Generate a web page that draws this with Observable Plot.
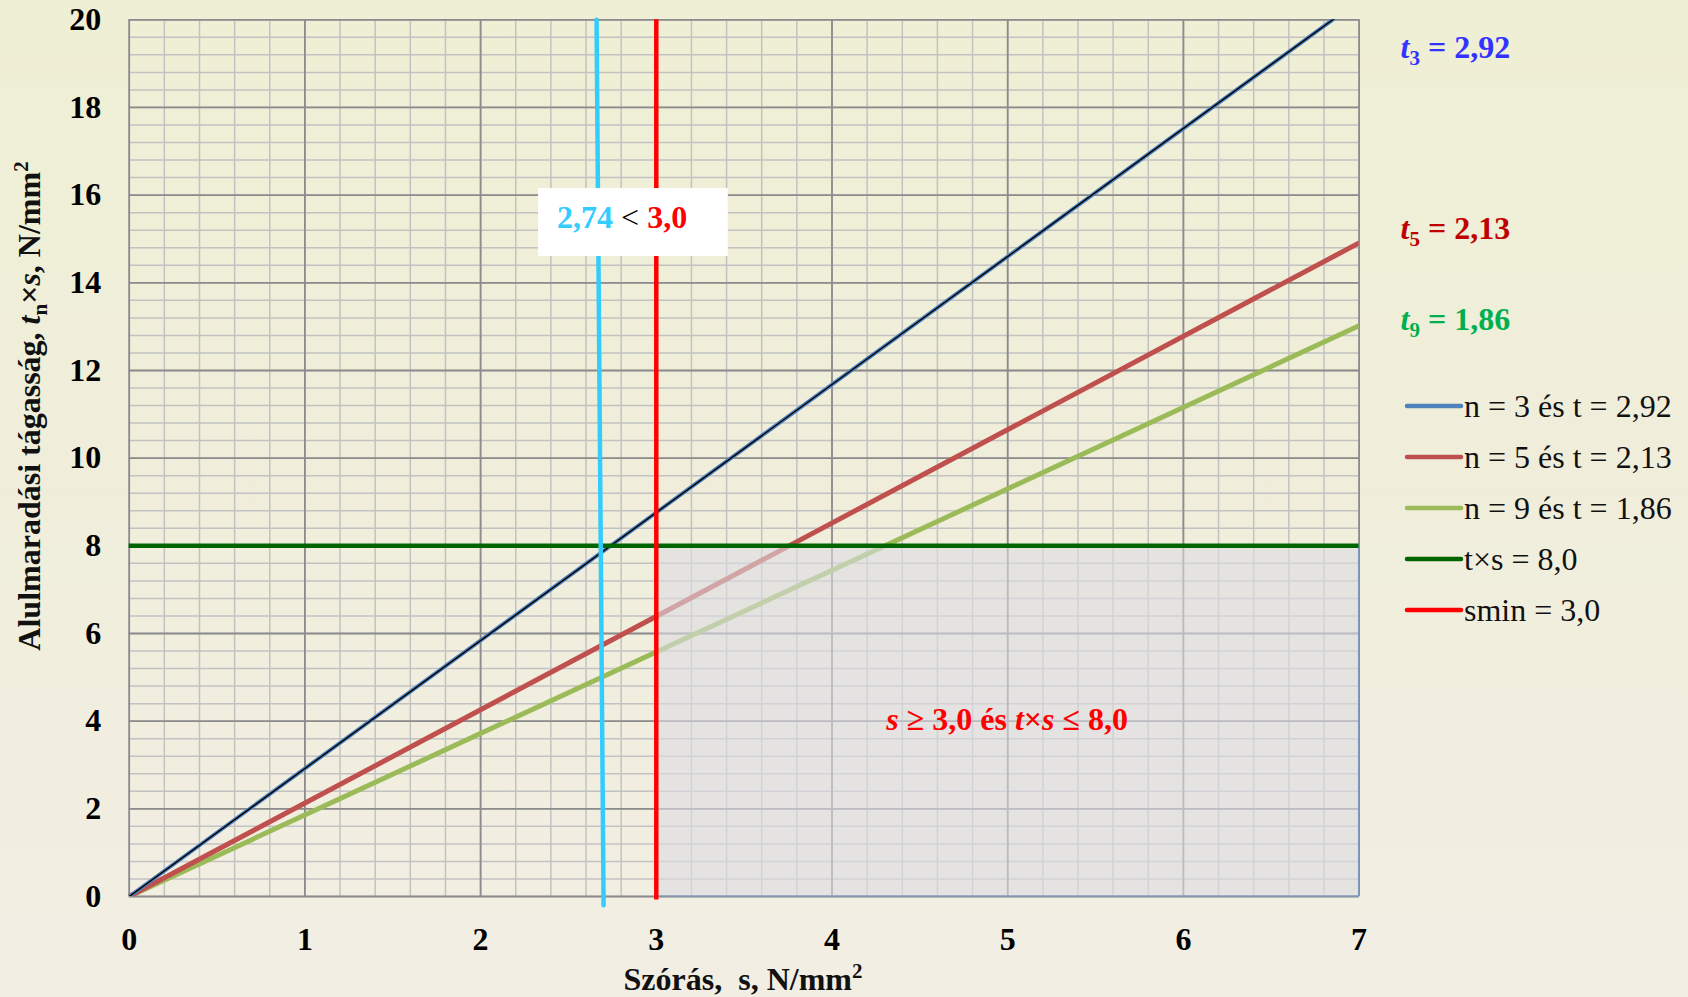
<!DOCTYPE html>
<html><head><meta charset="utf-8">
<script src="https://cdn.jsdelivr.net/npm/d3@7"></script>
<script src="https://cdn.jsdelivr.net/npm/@observablehq/plot@0.6"></script>
<style>
html,body{margin:0;padding:0;background:#f0eedc;}
#chart svg{display:block;}
#chart [aria-label="x-axis tick label"] text, #chart [aria-label="y-axis tick label"] text{font-weight:bold;}
</style></head><body><div id="chart"></div>
<script>
// ---- data ----
const sValues = [0, 7];                 // Szórás s (x) endpoints of the lines
const n3Values = [0, 20.44];            // t3*s, t3 = 2.92
const n5Values = [0, 14.91];            // t5*s, t5 = 2.13
const n9Values = [0, 13.02];            // t9*s, t9 = 1.86
const limitTS = 8.0;                    // t×s = 8,0
const sMin = 3.0;                       // smin = 3,0
const sCritS = [2.66, 2.70];            // cyan marker line (s ≈ 2,74)
const sCritY = [20, -0.2];
const xTicks = [0, 1, 2, 3, 4, 5, 6, 7];
const yTicks = [0, 2, 4, 6, 8, 10, 12, 14, 16, 18, 20];
const xMinor = d3.range(0, 7.001, 0.2);
const yMinor = d3.range(0, 20.001, 0.4);
const legendLabels = ["n = 3 és t = 2,92", "n = 5 és t = 2,13", "n = 9 és t = 1,86", "t×s = 8,0", "smin = 3,0"];
const tSubs = ["3", "5", "9"];
const tTexts = ["2,92", "2,13", "1,86"];
const tLabelY = [19.12, 14.99, 12.91];
const boxS = [2.33, 3.41];
const boxY = [14.6, 16.15];
const boxParts = ["2,74", " < ", "3,0"];
const zoneS = [3, 7];
const zoneY = [0, 8];
const zoneTextPos = [5.0, 3.78];

// ---- styles ----
const colBlue = "#4f81bd", colRed = "#c0504d", colGreen = "#9bbb59", colDark = "#006400", colVert = "#ff0000", colCyan = "#33ccff";
const legendColors = [colBlue, colRed, colGreen, colDark, colVert];
const tColors = ["#3333ff", "#c00000", "#00b050"];
const FONT = "'Liberation Serif', 'Times New Roman', serif";
const FS = 32;

const toPts = (ys) => sValues.map((s, i) => ({s, y: ys[i]}));
const cyanPts = sCritS.map((s, i) => ({s, y: sCritY[i]}));

const chart = Plot.plot({
  width: 1688, height: 997,
  marginLeft: 128.7, marginRight: 329.4, marginTop: 19.3, marginBottom: 101,
  style: {background: "linear-gradient(to bottom, #efefd5 0%, #f0eedb 50%, #f2eee4 100%)", fontFamily: FONT, color: "#000", overflow: "visible"},
  x: {domain: [0, 7]},
  y: {domain: [0, 20]},
  marks: [
    Plot.ruleX(xMinor, {x: d => d, stroke: "#c2c2c2", strokeWidth: 1.5}),
    Plot.ruleY(yMinor, {y: d => d, stroke: "#c2c2c2", strokeWidth: 1.5}),
    Plot.ruleX(xTicks, {x: d => d, stroke: "#8c8c8c", strokeWidth: 1.8}),
    Plot.ruleY(yTicks, {y: d => d, stroke: "#8c8c8c", strokeWidth: 1.8}),
    Plot.line(toPts(n9Values), {x: "s", y: "y", stroke: colGreen, strokeWidth: 5, clip: true}),
    Plot.line(toPts(n5Values), {x: "s", y: "y", stroke: colRed, strokeWidth: 5, clip: true}),
    Plot.line(toPts(n3Values), {x: "s", y: "y", stroke: colBlue, strokeWidth: 4, clip: true}),
    Plot.line(toPts(n3Values), {x: "s", y: "y", stroke: "#000", strokeWidth: 1.4, clip: true}),
    Plot.rect([{}], {x1: zoneS[0], x2: zoneS[1], y1: zoneY[0], y2: zoneY[1], fill: "#dcdce2", fillOpacity: 0.6, stroke: "#7f9bbd", strokeWidth: 1.3}),
    Plot.ruleY([limitTS], {y: d => d, x1: 0, x2: 7, stroke: colDark, strokeWidth: 4.5}),
    Plot.ruleX([sMin], {x: d => d, y1: -0.08, y2: 20, stroke: colVert, strokeWidth: 4.5}),
    Plot.line(cyanPts, {x: "s", y: "y", stroke: colCyan, strokeWidth: 4.5}),
    Plot.rect([{}], {x1: boxS[0], x2: boxS[1], y1: boxY[0], y2: boxY[1], fill: "#fff"}),
    Plot.axisX({ticks: xTicks, tickSize: 0, tickPadding: 31, fontSize: FS, fontWeight: "bold", label: null, tickFormat: d => String(d)}),
    Plot.axisY({ticks: yTicks, tickSize: 0, tickPadding: 28, fontSize: FS, fontWeight: "bold", label: null, tickFormat: d => String(d)})
  ]
});
document.getElementById("chart").appendChild(chart);

const X = chart.scale("x"), Y = chart.scale("y");
const svg = d3.select(chart);
const g = svg.append("g").attr("font-family", FONT).attr("text-anchor", "start");

// Box text
{
  const t = g.append("text").attr("x", X.apply(boxS[0]) + 19).attr("y", Y.apply(boxY[1]) + 40)
    .attr("font-size", FS).attr("text-anchor", "start");
  t.append("tspan").attr("fill", colCyan).attr("font-weight", "bold").text(boxParts[0]);
  t.append("tspan").attr("fill", "#000").text(boxParts[1]);
  t.append("tspan").attr("fill", "#ff0000").attr("font-weight", "bold").text(boxParts[2]);
}

// Zone text
{
  const t = g.append("text").attr("x", X.apply(zoneTextPos[0])).attr("y", Y.apply(zoneTextPos[1]))
    .attr("font-size", FS).attr("font-weight", "bold").attr("fill", "#ff0000").attr("text-anchor", "middle");
  t.append("tspan").attr("font-style", "italic").text("s");
  t.append("tspan").text(" ≥ 3,0 és ");
  t.append("tspan").attr("font-style", "italic").text("t");
  t.append("tspan").text("×");
  t.append("tspan").attr("font-style", "italic").text("s");
  t.append("tspan").text(" ≤ 8,0");
}

// t labels at right
tSubs.forEach((sub, i) => {
  const t = g.append("text").attr("x", X.apply(7) + 42).attr("y", Y.apply(tLabelY[i]))
    .attr("font-size", FS).attr("font-weight", "bold").attr("fill", tColors[i]).attr("text-anchor", "start");
  t.append("tspan").attr("font-style", "italic").text("t");
  t.append("tspan").attr("font-size", 21).attr("dy", 7).text(sub);
  t.append("tspan").attr("dy", -7).text(" = " + tTexts[i]);
});

// legend
legendLabels.forEach((lab, i) => {
  const cy = 406 + i * 51;
  g.append("line").attr("x1", 1407).attr("x2", 1461).attr("y1", cy).attr("y2", cy)
    .attr("stroke", legendColors[i]).attr("stroke-width", 4.5).attr("stroke-linecap", "round");
  g.append("text").attr("x", 1464).attr("y", cy + 11).attr("font-size", FS).attr("fill", "#111")
    .attr("text-anchor", "start").text(lab);
});

// y-axis label
{
  const t = g.append("text").attr("transform", "translate(40,406) rotate(-90)")
    .attr("text-anchor", "middle").attr("font-size", FS).attr("font-weight", "bold").attr("fill", "#111");
  t.append("tspan").text("Alulmaradási tágasság, ");
  t.append("tspan").attr("font-style", "italic").text("t");
  t.append("tspan").attr("font-size", 21).attr("dy", 7).text("n");
  t.append("tspan").attr("dy", -7).text("×");
  t.append("tspan").attr("font-style", "italic").text("s");
  t.append("tspan").text(", N/mm");
  t.append("tspan").attr("font-size", 21).attr("dy", -12).text("2");
}

// x-axis label
{
  const t = g.append("text").attr("x", 743).attr("y", 990)
    .attr("text-anchor", "middle").attr("font-size", FS).attr("font-weight", "bold").attr("fill", "#111");
  t.append("tspan").text("Szórás,  s, N/mm");
  t.append("tspan").attr("font-size", 21).attr("dy", -12).text("2");
}
</script></body></html>
